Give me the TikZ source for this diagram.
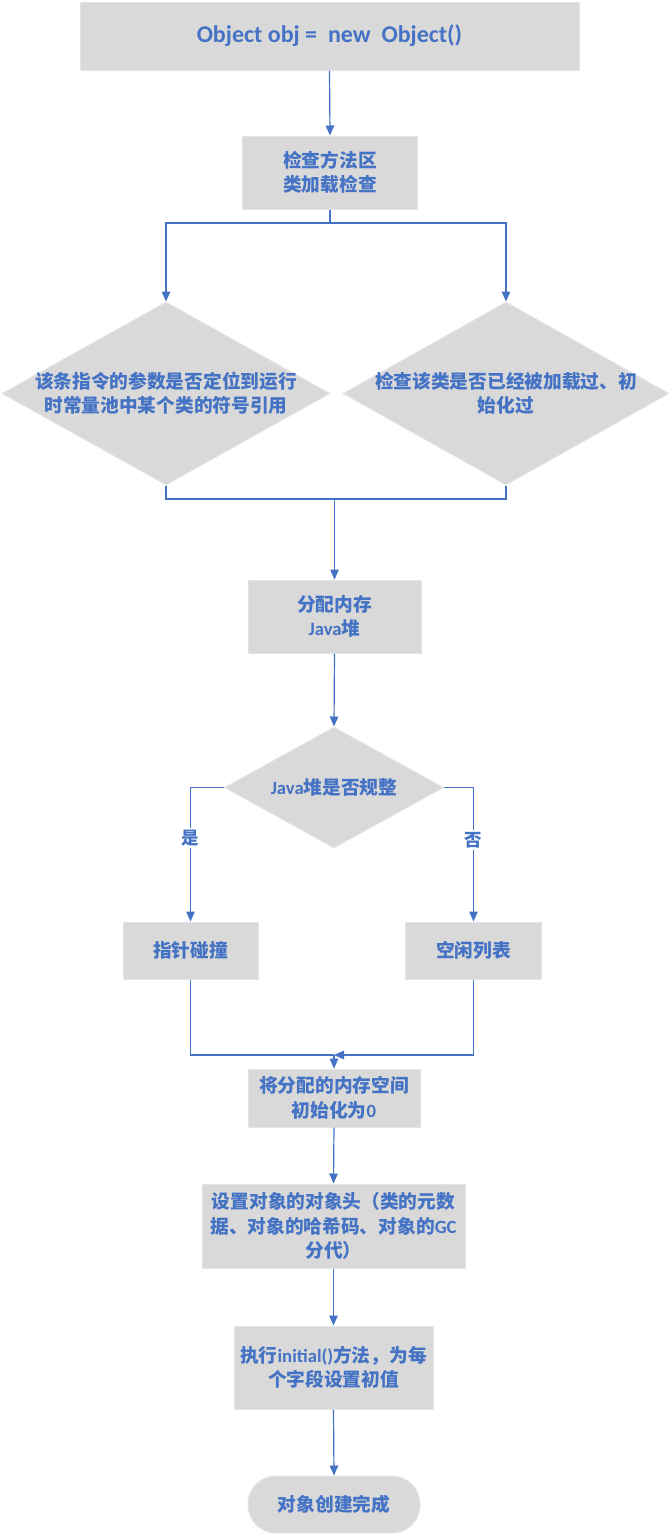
\documentclass[tikz,border=0pt]{standalone}
\usepackage{fontspec}
\setmainfont{Carlito}
\newfontfamily\cjk{Noto Sans CJK SC}
\usetikzlibrary{arrows.meta,shapes.geometric}
\definecolor{tblue}{HTML}{4472C4}
\definecolor{bfill}{HTML}{D9D9D9}
\definecolor{bline}{HTML}{E4E4EC}
\newcommand\la[1]{{\rmfamily #1}}
\begin{document}
\begin{tikzpicture}[x=1pt,y=-1pt,
  box/.style={rectangle, fill=bfill, draw=bline, line width=1pt, inner sep=0pt,
    text=tblue, font=\cjk\bfseries\fontsize{18.7}{24.5}\selectfont, align=center},
  dia/.style={diamond, fill=bfill, draw=bline, line width=1pt, inner sep=0pt},
  txt/.style={inner sep=0pt, text=tblue, font=\cjk\bfseries\fontsize{18.7}{24}\selectfont, align=center},
  lab/.style={fill=white, inner sep=2pt, text=tblue, font=\cjk\bfseries\fontsize{17.5}{20}\selectfont},
  conn/.style={draw=tblue, line width=1.2pt},
  arr/.style={conn, -{Triangle[width=8.5pt,length=10pt]}}]
\useasboundingbox (0,0) rectangle (669,1535);

\node[box, minimum width=499, minimum height=68, font=\rmfamily\bfseries\fontsize{24}{28}\selectfont] (b1) at (329.5,36) {Object obj =~~new~~Object()};
\node[box, minimum width=175, minimum height=73] (b2) at (330,172.5) {检查方法区\\类加载检查};

\node[dia, minimum width=328, minimum height=183] (d1) at (166,393.5) {};
\node[txt] (t1) at (d1) {该条指令的参数是否定位到运行\\时常量池中某个类的符号引用};
\node[dia, minimum width=326, minimum height=183] (d2) at (506,393.5) {};
\node[txt] (t2) at (d2) {检查该类是否已经被加载过、初\\始化过};

\node[box, minimum width=173, minimum height=73] (b3) at (334.5,616.5) {分配内存\\\la{Java}堆};

\node[dia, minimum width=219, minimum height=121] (d3) at (334,787.5) {};
\node[txt] (t3) at (d3) {\la{Java}堆是否规整};

\node[box, minimum width=135, minimum height=57] (bl) at (190.5,950.5) {指针碰撞};
\node[box, minimum width=136, minimum height=57] (br) at (473.5,950.5) {空闲列表};

\node[box, minimum width=172, minimum height=58] (b4) at (334,1098) {将分配的内存空间\\初始化为\la{0}};
\node[box, minimum width=263, minimum height=84] (b5) at (333.5,1226) {设置对象的对象头（类的元数\\据、对象的哈希码、对象的\la{GC}\\分代）};
\node[box, minimum width=199, minimum height=83] (b6) at (333.5,1367.5) {执行\la{initial()}方法，为每\\个字段设置初值};
\node[box, rounded corners=28pt, minimum width=172, minimum height=57] (b7) at (334,1504.5) {对象创建完成};

\coordinate (s) at (330,223);
\coordinate (m) at (334.5,499);
\coordinate (j) at (334,1055);

\draw[arr] (b1.south) -- (b2.north);
\draw[conn] (b2.south) -- (s);
\draw[arr] (s) -| (d1.north);
\draw[arr] (s) -| (d2.north);
\draw[conn] (d1.south) |- (m);
\draw[conn] (d2.south) |- (m);
\draw[arr] (m) -- (b3.north);
\draw[arr] (b3.south) -- (d3.north);
\draw[arr] (d3.west) -| (bl.north);
\draw[arr] (d3.east) -| (br.north);
\node[lab] (yes) at (190.5,838) {是};
\node[lab] (no) at (473.5,840) {否};
\draw[conn] (bl.south) |- (j);
\draw[arr] (br.south) |- (j);
\draw[arr] (j) -- (b4.north);
\draw[arr] (b4.south) -- (b5.north);
\draw[arr] (b5.south) -- (b6.north);
\draw[arr] (b6.south) -- (b7.north);
\end{tikzpicture}
\end{document}
